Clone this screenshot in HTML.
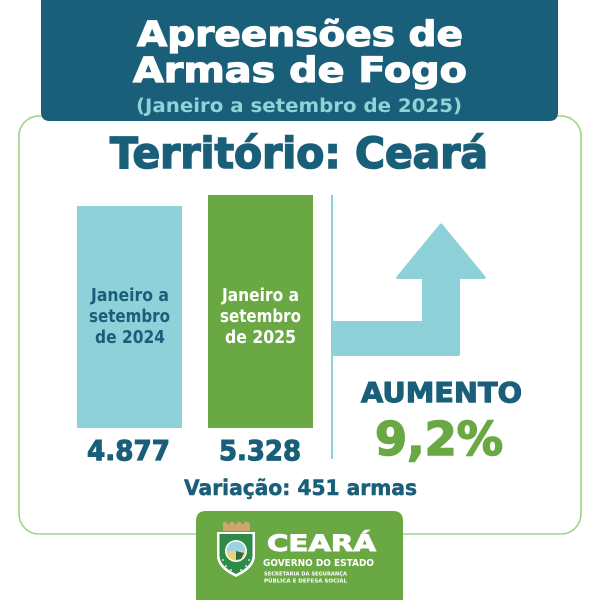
<!DOCTYPE html>
<html>
<head>
<meta charset="utf-8">
<style>
  html,body{margin:0;padding:0;background:#ffffff;}
  svg{display:block;}
  text{font-family:"DejaVu Sans","Liberation Sans",sans-serif;font-weight:bold;}
</style>
</head>
<body>
<svg width="600" height="600" viewBox="0 0 600 600" xmlns="http://www.w3.org/2000/svg">
  <rect x="0" y="0" width="600" height="600" fill="#ffffff"/>

  <!-- green frame -->
  <rect x="19" y="116" width="562" height="418" rx="20" ry="20" fill="none" stroke="#9dd387" stroke-width="1.6"/>

  <!-- header -->
  <path d="M41,0 H558 V112 Q558,121 549,121 H50 Q41,121 41,112 Z" fill="#1a5f79"/>
  <text x="137" y="46" font-size="35" fill="#ffffff" stroke="#ffffff" stroke-width="1.2" textLength="326" lengthAdjust="spacingAndGlyphs">Apreensões de</text>
  <text x="133" y="82" font-size="35" fill="#ffffff" stroke="#ffffff" stroke-width="1.2" textLength="334" lengthAdjust="spacingAndGlyphs">Armas de Fogo</text>
  <text x="136" y="112" font-size="18.5" fill="#8fd3d9" textLength="326" lengthAdjust="spacingAndGlyphs">(Janeiro a setembro de 2025)</text>

  <!-- Territory title -->
  <text x="110" y="168" font-size="43" fill="#1a5f79" stroke="#1a5f79" stroke-width="1.6" textLength="378" lengthAdjust="spacingAndGlyphs">Território: Ceará</text>

  <!-- bars -->
  <rect x="77" y="206" width="105" height="222" fill="#8fd1d8"/>
  <rect x="208" y="195" width="105" height="233" fill="#6aa843"/>

  <text x="91" y="301" font-size="18" fill="#1a5f79" textLength="78" lengthAdjust="spacingAndGlyphs">Janeiro a</text>
  <text x="89" y="322" font-size="18" fill="#1a5f79" textLength="81" lengthAdjust="spacingAndGlyphs">setembro</text>
  <text x="95" y="343" font-size="18" fill="#1a5f79" textLength="70" lengthAdjust="spacingAndGlyphs">de 2024</text>

  <text x="222" y="301" font-size="18" fill="#ffffff" textLength="77" lengthAdjust="spacingAndGlyphs">Janeiro a</text>
  <text x="220" y="322" font-size="18" fill="#ffffff" textLength="81" lengthAdjust="spacingAndGlyphs">setembro</text>
  <text x="225" y="343" font-size="18" fill="#ffffff" textLength="71" lengthAdjust="spacingAndGlyphs">de 2025</text>

  <!-- numbers -->
  <text x="87" y="460" font-size="28" fill="#1a5f79" stroke="#1a5f79" stroke-width="1.1" textLength="83" lengthAdjust="spacingAndGlyphs">4.877</text>
  <text x="219" y="460" font-size="28" fill="#1a5f79" stroke="#1a5f79" stroke-width="1.1" textLength="82" lengthAdjust="spacingAndGlyphs">5.328</text>

  <text x="184" y="495" font-size="21" fill="#1a5f79" stroke="#1a5f79" stroke-width="0.5" textLength="233" lengthAdjust="spacingAndGlyphs">Variação: 451 armas</text>

  <!-- divider -->
  <rect x="331" y="195" width="2" height="264" fill="#8fd1d8"/>

  <!-- arrow -->
  <path d="M333,321 H422 V279 H398 Q395,279 397,276 L439,225 Q441,222 443,225 L485,276 Q487,279 484,279 H460 V354 Q460,356 458,356 H333 Z" fill="#8fd1d8"/>

  <!-- AUMENTO -->
  <text x="361" y="402" font-size="28" fill="#1a5f79" stroke="#1a5f79" stroke-width="1.1" textLength="161" lengthAdjust="spacingAndGlyphs">AUMENTO</text>
  <text x="375" y="455" font-size="46" fill="#6aa843" stroke="#6aa843" stroke-width="1.6" textLength="128" lengthAdjust="spacingAndGlyphs">9,2%</text>

  <!-- logo box -->
  <path d="M196,600 V521 Q196,511 206,511 H393 Q403,511 403,521 V600 Z" fill="#6aa843"/>

  <!-- crest -->
  <g>
    <rect x="223" y="524" width="27" height="7" fill="#c8a66e"/>
    <rect x="223" y="522" width="4" height="3" fill="#c8a66e"/>
    <rect x="230" y="522" width="4" height="3" fill="#c8a66e"/>
    <rect x="237" y="522" width="4" height="3" fill="#c8a66e"/>
    <rect x="244" y="522" width="5" height="3" fill="#c8a66e"/>
    <path d="M217,532 H255 V556 Q255,568 236,577 Q217,568 217,556 Z" fill="#ffffff"/>
    <path d="M219.5,534 H252.5 V555.5 Q252.5,566 236,574 Q219.5,566 219.5,555.5 Z" fill="#2f8a4a"/>
    <circle cx="236" cy="551" r="11" fill="#ffffff"/>
    <circle cx="236" cy="551" r="9.5" fill="#9fd2e0"/>
    <path d="M226.5,551 A9.5,9.5 0 0 0 245.5,551 Z" fill="#e9d27a"/>
    <path d="M236,551 L244,553 L241,559 L236,560 Z" fill="#2f6a3a"/>
    <circle cx="223" cy="560" r="0.9" fill="#ffffff"/>
    <circle cx="226" cy="566" r="0.9" fill="#ffffff"/>
    <circle cx="231" cy="570" r="0.9" fill="#ffffff"/>
    <circle cx="249" cy="560" r="0.9" fill="#ffffff"/>
    <circle cx="246" cy="566" r="0.9" fill="#ffffff"/>
    <circle cx="241" cy="570" r="0.9" fill="#ffffff"/>
  </g>

  <text x="267" y="551" font-size="22" fill="#ffffff" stroke="#ffffff" stroke-width="0.9" textLength="109" lengthAdjust="spacingAndGlyphs">CEARÁ</text>
  <text x="263" y="566" font-size="9.5" fill="#ffffff" textLength="111" lengthAdjust="spacingAndGlyphs">GOVERNO DO ESTADO</text>
  <text x="264" y="575.5" font-size="5.6" fill="#ffffff" textLength="83" lengthAdjust="spacingAndGlyphs">SECRETARIA DA SEGURANÇA</text>
  <text x="264" y="582.5" font-size="5.6" fill="#ffffff" textLength="83" lengthAdjust="spacingAndGlyphs">PÚBLICA E DEFESA SOCIAL</text>
</svg>
</body>
</html>
